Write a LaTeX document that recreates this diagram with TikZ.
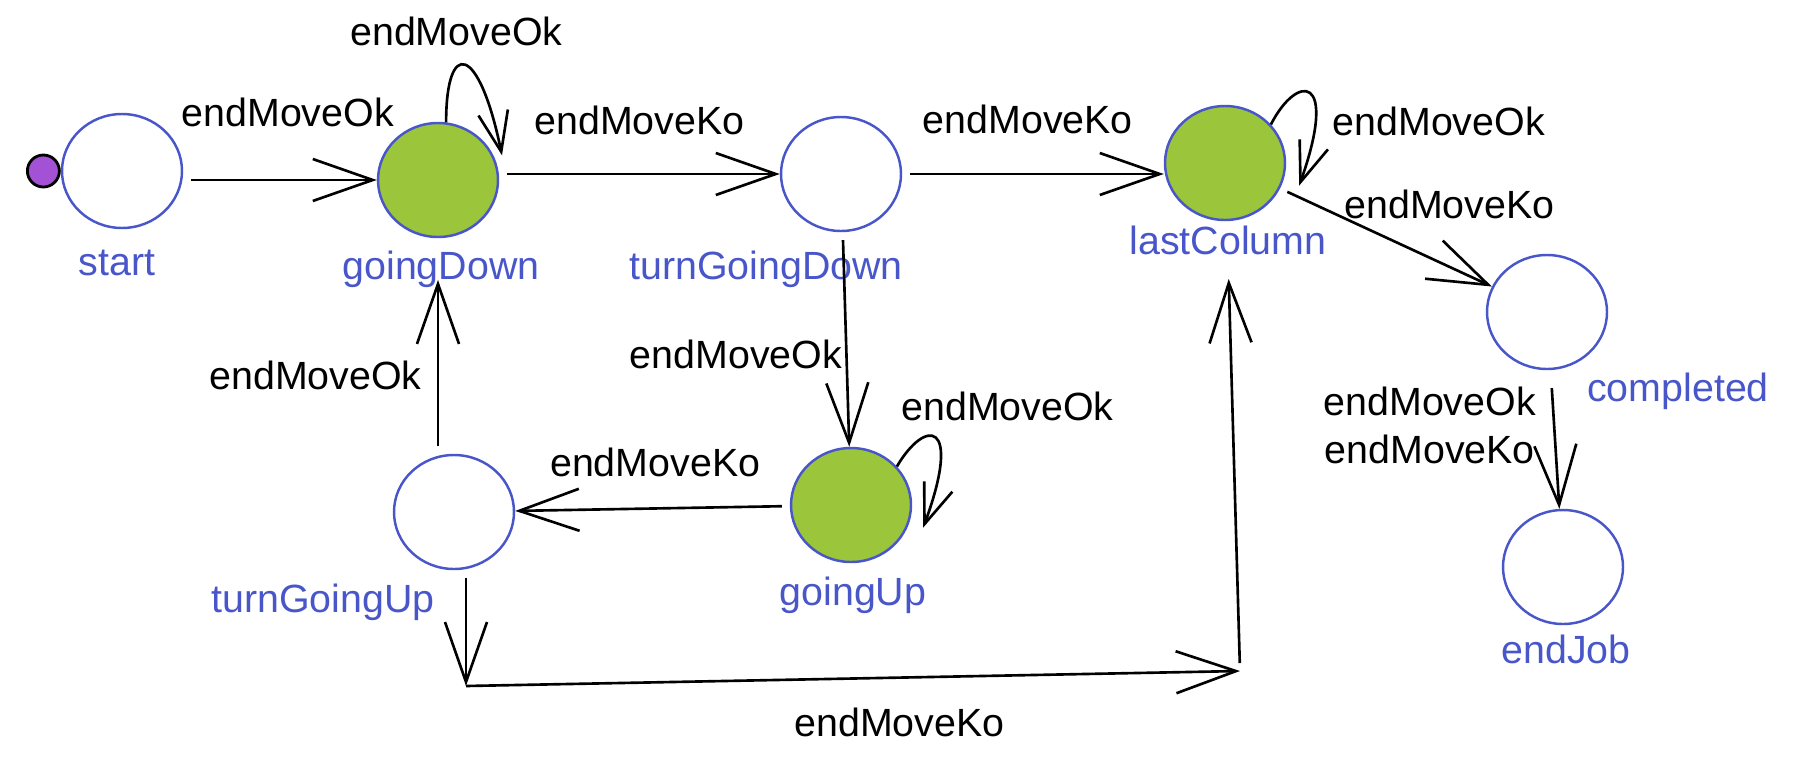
\documentclass[tikz,border=0pt]{standalone}
\usepackage{fontspec}
\setmainfont{Liberation Sans}
\usepackage{xcolor}
\usetikzlibrary{shapes,arrows.meta,positioning}

\definecolor{stateblue}{RGB}{72,86,202}
\definecolor{stategreen}{RGB}{155,197,58}
\definecolor{initpurple}{RGB}{163,82,214}

\begin{document}
\begin{tikzpicture}[
  x=0.1mm, y=-0.1mm,
  font=\fontsize{11.2}{13.5}\selectfont,
  state/.style={ellipse, draw=stateblue, line width=0.7pt, minimum width=12mm, minimum height=11.4mm, inner sep=0pt},
  activestate/.style={state, fill=stategreen},
  initdot/.style={circle, draw=black, fill=initpurple, line width=0.8pt, minimum size=3.2mm, inner sep=0pt},
  statename/.style={text=stateblue, inner sep=0pt, text height=0.72em, text depth=0pt},
  evt/.style={inner sep=0pt},
  trans/.style={line width=0.75pt, shorten <=0.8mm, -{Straight Barb[length=6mm, width=4.2mm]}},
  selfloop/.style={line width=0.75pt, -{Straight Barb[length=4mm, width=3mm]}}
]
  \useasboundingbox (0,0) rectangle (1820,767);

  % States
  \node[state]       (start)         at (122,171) {};
  \node[initdot, left=0pt of start] (init) {};
  \node[activestate] (goingDown)     at (438,180) {};
  \node[state]       (turnGoingDown) at (841,174) {};
  \node[activestate] (lastColumn)    at (1225,163) {};
  \node[state]       (completed)     at (1547,312) {};
  \node[state]       (endJob)        at (1563,567) {};
  \node[activestate] (goingUp)       at (851,505) {};
  \node[state]       (turnGoingUp)   at (454,512) {};

  % State names
  \node[statename, below=2mm of start, xshift=-0.5mm]           (startLbl)         {start};
  \node[statename, below=1.5mm of goingDown, xshift=0.3mm]      (goingDownLbl)     {goingDown};
  \node[statename, below=2.1mm of turnGoingDown, xshift=-7.5mm] (turnGoingDownLbl) {turnGoingDown};
  \node[statename, below=0.7mm of lastColumn, xshift=0.3mm]     (lastColumnLbl)    {lastColumn};
  \node[statename, below=0.5mm of completed, xshift=13.1mm]     (completedLbl)     {completed};
  \node[statename, below=1.2mm of endJob, xshift=0.3mm]         (endJobLbl)        {endJob};
  \node[statename, below=1.6mm of goingUp, xshift=0.2mm]        (goingUpLbl)       {goingUp};
  \node[statename, below=1.6mm of turnGoingUp, xshift=-13.1mm]  (turnGoingUpLbl)   {turnGoingUp};

  % Transitions
  \draw[trans] (start.east |- goingDown) -- node[evt, pos=0.54, above=5.2mm] {endMoveOk} (goingDown);
  \draw[selfloop] (goingDown.82) .. controls +(0,-84) and +(-23,-112) .. node[evt, pos=0.5, above=1.8mm, xshift=-0.9mm] {endMoveOk} ([shift={(9,1)}]goingDown.25);

  \draw[trans] (goingDown.east |- turnGoingDown) -- node[evt, pos=0.5, above=3.8mm] {endMoveKo} (turnGoingDown);
  \draw[trans] (turnGoingDown) -- node[evt, pos=0.48, above=3.9mm] {endMoveKo} (lastColumn.west |- turnGoingDown);

  \draw[selfloop] (lastColumn.40) .. controls +(26,-51) and +(40,-113) .. node[evt, pos=0.75, right=1.6mm] {endMoveOk} ([shift={(14,12)}]lastColumn.-10);
  \draw[trans] (lastColumn) -- node[evt, pos=0.8, above=4.7mm] {endMoveKo} (completed);
  \draw[trans, shorten <=1.8mm] (completed) -- node[evt, pos=0.4, left=1.7mm, align=center] {endMoveOk\\endMoveKo} (endJob);

  \draw[trans] (turnGoingDown) -- node[evt, pos=0.57, left=0.3mm] {endMoveOk} (goingUp);
  \draw[selfloop] (goingUp.40) .. controls +(28,-48) and +(40,-109) .. node[evt, pos=0.5, above=1.6mm, xshift=7.2mm] {endMoveOk} ([shift={(12,12)}]goingUp.-10);
  \draw[trans] (goingUp) -- node[evt, pos=0.49, above=3mm] {endMoveKo} (turnGoingUp);
  \draw[trans] (turnGoingUp.north -| goingDown) -- node[evt, pos=0.45, left=1.5mm] {endMoveOk} (goingDownLbl.south -| goingDown);

  % round the bottom to lastColumn
  \coordinate (c1) at (466,686);
  \coordinate (c2) at (1240,671);
  \draw[trans] (turnGoingUp.south -| c1) -- (c1);
  \draw[trans, shorten <=0pt] (c1) -- node[evt, pos=0.56, below=2.9mm] {endMoveKo} (c2);
  \draw[trans, shorten >=2.4mm] (c2) -- (lastColumnLbl.south);

\end{tikzpicture}
\end{document}
